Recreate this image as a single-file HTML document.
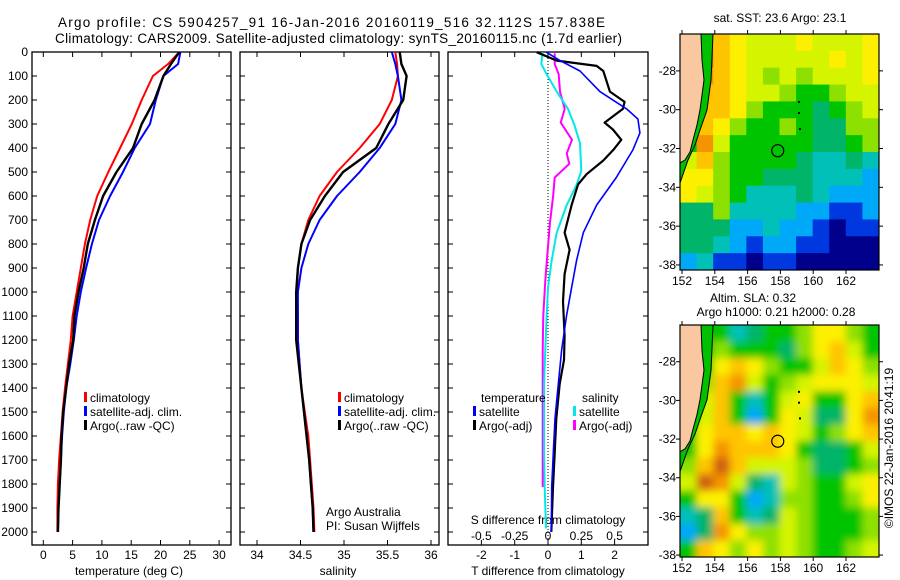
<!DOCTYPE html>
<html><head><meta charset="utf-8"><style>
html,body{margin:0;padding:0;background:#fff}
svg{display:block;font-family:"Liberation Sans",sans-serif}
</style></head><body>
<svg id="c" width="900" height="580" viewBox="0 0 900 580" xmlns="http://www.w3.org/2000/svg">
<defs>
<filter id="blur" filterUnits="userSpaceOnUse" x="640" y="290" width="260" height="290"><feGaussianBlur stdDeviation="4"/></filter>
<clipPath id="clipTop"><rect x="680" y="34" width="199" height="236"/></clipPath>
<clipPath id="clipBot"><rect x="680" y="325" width="199" height="232"/></clipPath>
</defs>
<text x="58" y="27" font-size="13.5" textLength="547">Argo profile: CS 5904257_91 16-Jan-2016 20160119_516 32.112S 157.838E</text>
<text x="55" y="43" font-size="13.5" textLength="567">Climatology: CARS2009. Satellite-adjusted climatology: synTS_20160115.nc (1.7d earlier)</text>
</svg>
<script>
// ---------- data ----------
const depths = [0,50,100,200,300,400,500,600,700,800,900,1000,1100,1200,1300,1400,1500,1600,1700,1800,1900,2000];
const tempClim = [23.2,21.3,18.7,16.8,15.1,13.1,11.1,9.2,8.0,7.1,6.4,5.7,5.0,4.7,4.2,3.7,3.3,3.0,2.7,2.5,2.4,2.4];
const tempSat  = [23.4,23.0,20.5,19.2,18.2,15.6,13.6,11.4,9.5,8.3,7.3,6.4,5.7,5.2,4.6,3.9,3.5,3.2,3.0,2.8,2.6,2.5];
const tempArgo = [23.2,21.8,20.5,19.0,16.8,15.3,12.5,10.2,8.8,7.6,6.9,6.0,5.3,5.1,4.4,3.9,3.4,3.1,3.0,2.8,2.6,2.5];
const salClim  = [35.59,35.61,35.62,35.55,35.41,35.18,34.92,34.72,34.59,34.51,34.47,34.46,34.47,34.47,34.49,34.51,34.55,34.59,34.61,34.63,34.65,34.66];
const salSat   = [35.55,35.59,35.62,35.66,35.59,35.41,35.18,34.92,34.72,34.59,34.51,34.47,34.47,34.47,34.49,34.51,34.54,34.57,34.60,34.62,34.64,34.65];
const salArgo  = [35.64,35.66,35.72,35.68,35.51,35.37,34.99,34.78,34.61,34.51,34.47,34.45,34.45,34.45,34.48,34.51,34.54,34.57,34.60,34.62,34.64,34.65];

const dTsatDepth = [1,36,79,165,237,279,337,408,523,638,753,868,982,1097,1240,1383,1527,1670,1813,2000];
const dTsat      = [-0.05,0.36,0.96,1.56,2.36,2.7,2.76,2.55,2.05,1.46,1.06,0.86,0.71,0.56,0.41,0.31,0.21,0.16,0.11,0.1];
const dTargoDepth = [1,36,58,79,165,208,237,294,323,366,408,452,509,552,638,753,824,925,1039,1183,1283,1383,1527,1670,1813,2000];
const dTargo      = [-0.34,0.26,1.46,1.66,1.86,2.3,2.25,1.7,1.95,2.2,1.96,1.66,1.16,0.9,0.71,0.5,0.65,0.5,0.45,0.5,0.48,0.35,0.25,0.2,0.15,0.1];
const dSsatDepth = [1,50,93,165,237,308,380,495,552,638,753,868,982,1097,1240,1383,1670,1813,1985];
const dSsat      = [-0.04,-0.05,-0.01,0.065,0.15,0.2,0.24,0.25,0.215,0.14,0.065,0.028,0.0,-0.01,-0.02,-0.03,-0.03,-0.025,-0.015];
const dSargoDepth = [6,50,93,165,237,294,366,423,466,523,595,710,810,953,1097,1240,1527,1813];
const dSargo      = [0.05,0.05,0.08,0.09,0.125,0.095,0.18,0.14,0.16,0.05,0.04,0.015,0.0,-0.02,-0.035,-0.04,-0.04,-0.04];

const depthTicks = [0,100,200,300,400,500,600,700,800,900,1000,1100,1200,1300,1400,1500,1600,1700,1800,1900,2000];
const tempTicks = [0,5,10,15,20,25,30];
const salTicks = [34,34.5,35,35.5,36];
const salTickLabels = ["34","34.5","35","35.5","36"];
const dTTicks = [-2,-1,0,1,2];
const dSTicks = [-0.5,-0.25,0,0.25,0.5];
const dSTickLabels = ["-0.5","-0.25","0","0.25","0.5"];
const latTicks = [-28,-30,-32,-34,-36,-38];
const lonTicks = [152,154,156,158,160,162];

// SST grid codes (rows top->bottom), L = land
const sstGrid = [
"La9877787778",
"Lb9877777878",
"La9876767778",
"L99877655677",
"L99865554567",
"598655654466",
"5a7555554456",
"796555543343",
"886554443332",
"876533343222",
"446333322112",
"444223221011",
"443212211000",
"231101100000"];
const slaGrid = [
"L55345568865",
"L56555468975",
"L58986557986",
"L69a75678887",
"L79535785589",
"L7952587448a",
"589989875689",
"58a999854457",
"69b977764456",
"7ba743765578",
"588523665568",
"349534765556",
"24a866765556",
"598686765567"];
const palette = {"0":"#00008c","1":"#0038e0","2":"#00a8f8","3":"#00c0b8","4":"#00b46a","5":"#00c400","6":"#8ee000","7":"#d4f400","8":"#fcf000","9":"#ffc400","a":"#f49400","b":"#d06010","L":"#00c400"};

// ---------- helpers ----------
const svg = document.getElementById('c');
const NS = 'http://www.w3.org/2000/svg';
function mk(tag, attrs, parent){ const e=document.createElementNS(NS,tag); for(const k in attrs) e.setAttribute(k,attrs[k]); (parent||svg).appendChild(e); return e; }
const yD = d => 52 + d*0.24;
const xT = t => 43.3 + t*5.86;
const xS = s => 257 + (s-34)*87;
const xDT = t => 548 + t*33.3;
const xDS = s => 548 + s*133.3;
function line(xs, ds, xf, color, w, name){
  const pts = xs.map((v,i)=>xf(v).toFixed(1)+','+yD(ds[i]).toFixed(1)).join(' ');
  const p = mk('polyline',{points:pts,fill:'none',stroke:color,'stroke-width':w,'stroke-linejoin':'round'});
  
  
}
function txt(x,y,s,opts,name){
  const t = mk('text',Object.assign({x:x,y:y,'font-size':12},opts||{}));
  t.textContent = s;
  
  
  return t;
}
function panel(x0,x1,name){
  const r = mk('rect',{x:x0,y:52,width:x1-x0,height:493,fill:'none',stroke:'#000','stroke-width':1.3});
  
  
  depthTicks.forEach(d=>{ mk('line',{x1:x0,x2:x0+5,y1:yD(d),y2:yD(d),stroke:'#000'}); mk('line',{x1:x1-5,x2:x1,y1:yD(d),y2:yD(d),stroke:'#000'}); });
}
function xticks(vals,f){ vals.forEach(v=>{ const x=f(v); mk('line',{x1:x,x2:x,y1:52,y2:57,stroke:'#000'}); mk('line',{x1:x,x2:x,y1:540,y2:545,stroke:'#000'}); }); }

// ---------- panel 1: temperature ----------
panel(32,231,'temperature-panel');
depthTicks.forEach(d=>{ txt(28,yD(d)+4,String(d),{'text-anchor':'end'},'depth-tick-label'); });
xticks(tempTicks,xT);
tempTicks.forEach(v=>{ txt(xT(v),559,String(v),{'text-anchor':'middle'},'temp-tick-label'); });
txt(129,575,'temperature (deg C)',{'text-anchor':'middle'},'temperature-axis-title');
line(tempClim,depths,xT,'#ff0000',2,'temp-climatology-line');
line(tempSat,depths,xT,'#0000ff',2,'temp-satellite-line');
line(tempArgo,depths,xT,'#000000',2.4,'temp-argo-line');

// ---------- panel 2: salinity ----------
panel(240,439,'salinity-panel');
xticks(salTicks,xS);
salTicks.forEach((v,i)=>{ txt(xS(v),559,salTickLabels[i],{'text-anchor':'middle'},'salinity-tick-label'); });
txt(338,575,'salinity',{'text-anchor':'middle'},'salinity-axis-title');
line(salClim,depths,xS,'#ff0000',2,'sal-climatology-line');
line(salSat,depths,xS,'#0000ff',2,'sal-satellite-line');
line(salArgo,depths,xS,'#000000',2.4,'sal-argo-line');
txt(326,516,'Argo Australia',{},'argo-australia-label');
txt(326,530,'PI: Susan Wijffels',{},'pi-label');

// legends panels 1 & 2
[[84,90],[338,344]].forEach(([mx,tx])=>{
  [['#ff0000','climatology'],['#0000ff','satellite-adj. clim.'],['#000000','Argo(..raw -QC)']].forEach(([c,l],i)=>{
    const y=402+i*14;
    const m=mk('rect',{x:mx,y:y-10,width:3,height:10,fill:c});
    
    
    txt(tx,y,l,{},'legend-entry');
  });
});

// ---------- panel 3: differences ----------
panel(448,648,'difference-panel');
xticks(dTTicks,xDT);
mk('line',{x1:548,x2:548,y1:52,y2:545,stroke:'#000','stroke-width':1,'stroke-dasharray':'1,2'});
dTTicks.forEach(v=>{ txt(xDT(v),559,String(v),{'text-anchor':'middle'},'tdiff-tick-label'); });
dSTicks.forEach((v,i)=>{ txt(xDS(v),540,dSTickLabels[i],{'text-anchor':'middle'},'sdiff-tick-label'); });
txt(548,524,'S difference from climatology',{'text-anchor':'middle'},'sdiff-axis-title');
txt(548,575,'T difference from climatology',{'text-anchor':'middle'},'tdiff-axis-title');
line(dSargo,dSargoDepth,xDS,'#ff00ff',2,'sdiff-argo-line');
line(dSsat,dSsatDepth,xDS,'#00e8e8',2,'sdiff-satellite-line');
line(dTargo,dTargoDepth,xDT,'#000000',2.2,'tdiff-argo-line');
line(dTsat,dTsatDepth,xDT,'#0000ff',1.6,'tdiff-satellite-line');
txt(481,402,'temperature',{},'legend-temperature-heading');
txt(582,402,'salinity',{},'legend-salinity-heading');
[[473,479,'#0000ff','satellite',416],[473,479,'#000000','Argo(-adj)',430],[573,579,'#00e8e8','satellite',416],[573,579,'#ff00ff','Argo(-adj)',430]].forEach(([mx,tx,c,l,y])=>{
  const m=mk('rect',{x:mx,y:y-10,width:3,height:10,fill:c});
  
  
  txt(tx,y,l,{},'legend-entry');
});

// ---------- maps ----------
function map(top,h,grid,clip,blur,name){
  const g = mk('g',{'clip-path':'url(#'+clip+')'});
  
  
  const inner = mk('g', blur?{filter:'url(#blur)'}:{}, g);
  const cw=199/12, ch=h/14;
  grid.forEach((row,r)=>{ for(let c=0;c<12;c++){
    let x=680+c*cw, y=top+r*ch, w=cw+0.6, hh=ch+0.6;
    if(blur){ if(c==0){x-=20;w+=20;} if(c==11){w+=20;} if(r==0){y-=20;hh+=20;} if(r==13){hh+=20;} }
    mk('rect',{x:x,y:y,width:w,height:hh,fill:palette[row[c]]},inner); } });
  const s=h/236;
  const Y = v => top + (v-34)*s;
  mk('polygon',{points:[[680,34],[713,34],[711,80],[707,110],[700,130],[695,145],[688,160],[680,183]].map(p=>p[0]+','+Y(p[1])).join(' '),fill:'#00c000'},g);
  mk('polyline',{points:[[713,34],[711,80],[707,110],[700,130],[695,145],[688,160],[680,183]].map(p=>p[0]+','+Y(p[1])).join(' '),fill:'none',stroke:'#000','stroke-width':1},g);
  const land = mk('polygon',{points:[[680,34],[701,34],[702,60],[704,80],[700,110],[697,125],[693,140],[690,152],[685,160],[680,163]].map(p=>p[0]+','+Y(p[1])).join(' '),fill:'#f9c8a0',stroke:'#000','stroke-width':1},g);
  
  
  [[798,Y(101)],[798,Y(112)],[799,Y(128)]].forEach(p=>mk('rect',{x:p[0],y:p[1],width:2,height:2,fill:'#000'},g));
  const box = mk('rect',{x:680,y:top,width:199,height:h,fill:'none',stroke:'#000','stroke-width':1.2});
  
  
  const latY = lat => top + (-26.1 - lat)*(h/(h===236?12.16:12.0));
  const lonX = lon => 682 + (lon-152)*16.4;
  latTicks.forEach(l=>{ const y=latY(l); mk('line',{x1:676,x2:680,y1:y,y2:y,stroke:'#000'}); mk('line',{x1:879,x2:883,y1:y,y2:y,stroke:'#000'}); txt(676,y+4,String(l),{'text-anchor':'end'},'lat-tick-label'); });
  lonTicks.forEach(l=>{ const x=lonX(l); mk('line',{x1:x,x2:x,y1:top-4,y2:top,stroke:'#000'}); mk('line',{x1:x,x2:x,y1:top+h,y2:top+h+4,stroke:'#000'}); txt(x,top+h+15,String(l),{'text-anchor':'middle'},'lon-tick-label'); });
  const pos = mk('circle',{cx:lonX(157.838),cy:latY(-32.112),r:6,fill:'none',stroke:'#000','stroke-width':1.2});
  
  
}
map(34,236,sstGrid,'clipTop',false,'sst-map');
map(325,232,slaGrid,'clipBot',true,'sla-map');
txt(780,22,'sat. SST: 23.6 Argo: 23.1',{'text-anchor':'middle'},'sst-map-title');
txt(753,302,'Altim. SLA: 0.32',{'text-anchor':'middle'},'sla-map-title');
txt(776,316,'Argo h1000: 0.21 h2000: 0.28',{'text-anchor':'middle'},'sla-map-subtitle');
txt(0,0,'©IMOS 22-Jan-2016 20:41:19',{'text-anchor':'middle',transform:'translate(893,448) rotate(-90)'},'imos-timestamp');
</script>
</body></html>
